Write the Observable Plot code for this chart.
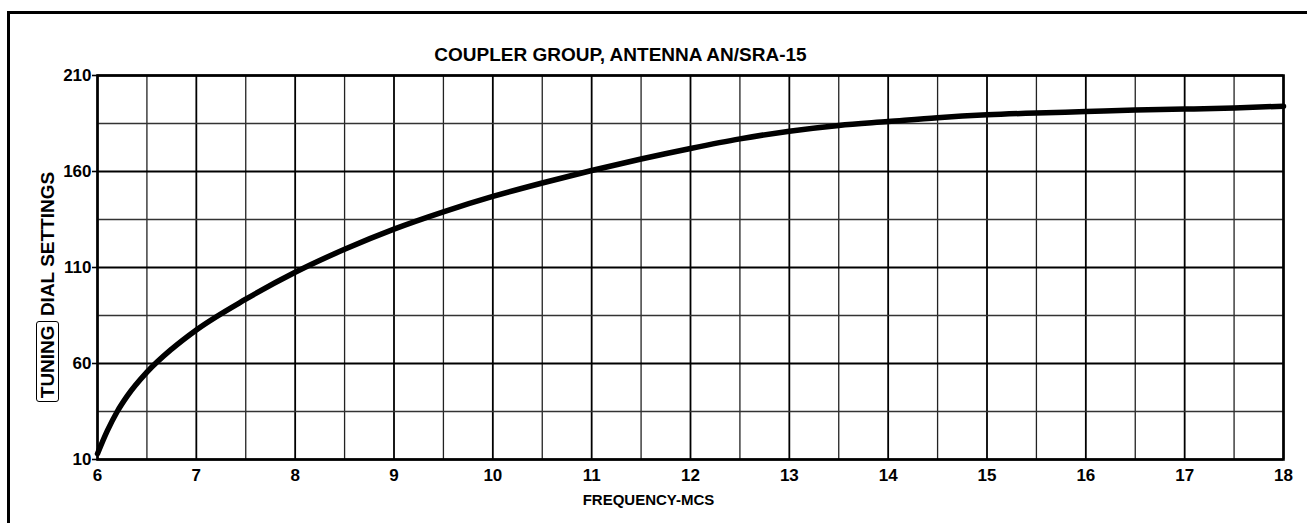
<!DOCTYPE html>
<html>
<head>
<meta charset="utf-8">
<script src="https://cdn.jsdelivr.net/npm/d3@7"></script>
<script src="https://cdn.jsdelivr.net/npm/@observablehq/plot@0.6"></script>
<style>
  html, body { margin: 0; padding: 0; background: #fff; }
  #wrap { position: relative; width: 1307px; height: 523px; overflow: hidden; }
  #border { position: absolute; left: 7px; top: 11px; width: 1310px; height: 520px;
            border-left: 3px solid #000; border-top: 3px solid #000; box-sizing: border-box; }
  #ylabel { position: absolute; left: -77px; top: 276px; width: 250px; height: 22px;
            transform: rotate(-90deg); transform-origin: 50% 50%; text-align: center;
            font: bold 19px "Liberation Sans", Arial, sans-serif; line-height: 22px; color: #000; white-space: nowrap; }
  #ylabel span.box { border: 1.5px solid #000; border-radius: 3px; padding: 0 3px; }
  #chart { position: absolute; left: 0; top: 0; }
</style>
</head>
<body>
<div id="wrap">
  <div id="border"></div>
  <div id="chart"></div>
  <div id="ylabel"><span class="box">TUNING</span> DIAL SETTINGS</div>
</div>
<script>
// Data
const frequency = [6, 6.1, 6.2, 6.3, 6.5, 6.75, 7, 7.5, 8, 8.5, 9, 9.5, 10, 10.5, 11, 11.5, 12, 12.5, 13, 13.5, 14, 14.5, 15, 15.5, 16, 16.5, 17, 17.5, 18];
const dialSetting = [13, 25, 35, 43, 55.5, 67.5, 77.5, 93.5, 107.5, 119.5, 130, 139, 147, 154, 160.5, 166.5, 172, 177, 181, 184, 186, 188, 189.5, 190.5, 191.2, 192, 192.5, 193.1, 194];

const xTicks = [6, 7, 8, 9, 10, 11, 12, 13, 14, 15, 16, 17, 18];
const xHalfLines = [6.5, 7.5, 8.5, 9.5, 10.5, 11.5, 12.5, 13.5, 14.5, 15.5, 16.5, 17.5];
const yTicks = [10, 60, 110, 160, 210];
const yHalfLines = [35, 85, 135, 185];

const title = "COUPLER GROUP, ANTENNA AN/SRA-15";
const xLabel = "FREQUENCY-MCS";

const curve = frequency.map((f, i) => ({f, v: dialSetting[i]}));

const font = "'Liberation Sans', Arial, sans-serif";

const chart = Plot.plot({
  width: 1307,
  height: 523,
  marginLeft: 97,
  marginRight: 24,
  marginTop: 75,
  marginBottom: 64,
  style: {fontFamily: font, color: "#000", background: "transparent"},
  x: {domain: [6, 18]},
  y: {domain: [10, 210]},
  marks: [
    Plot.ruleX(xHalfLines, {stroke: "#222", strokeWidth: 1.3}),
    Plot.ruleX(xTicks, {stroke: "#000", strokeWidth: 1.8}),
    Plot.ruleY(yHalfLines, {stroke: "#333", strokeWidth: 1.3}),
    Plot.ruleY(yTicks, {stroke: "#000", strokeWidth: 1.8}),
    Plot.frame({stroke: "#000", strokeWidth: 2.6}),
    Plot.axisX(xTicks, {tickSize: 0, tickPadding: 9, fontSize: 17, fontWeight: "bold", label: null, tickFormat: d => String(d)}),
    Plot.axisY(yTicks, {tickSize: 5, tickPadding: 1, fontSize: 17, fontWeight: "bold", label: null, strokeWidth: 1.6, tickFormat: d => String(d)}),
    Plot.line(curve, {x: "f", y: "v", curve: "monotone-x", stroke: "#000", strokeWidth: 5.5}),
    Plot.text([title], {frameAnchor: "top", dx: -70, dy: -21, text: d => d, fontSize: 19, fontWeight: "bold", lineAnchor: "middle"}),
    Plot.text([xLabel], {frameAnchor: "bottom", dx: -42, dy: 41, text: d => d, fontSize: 15, fontWeight: "bold", lineAnchor: "middle"})
  ]
});
document.getElementById("chart").appendChild(chart);
</script>
</body>
</html>
